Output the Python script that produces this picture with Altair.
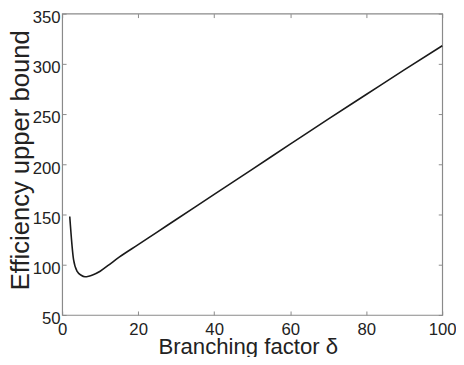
import altair as alt
import pandas as pd

# Branching factor values and efficiency upper bound
delta = [2, 3, 4, 5, 6, 7, 8, 10, 12, 15, 20, 25, 30, 40, 50, 60, 70, 80, 90, 100]
efficiency = [148, 105, 93, 89.5, 88, 88.6, 89.8, 93.5, 99, 107.5, 120, 132.5, 145,
              170, 195, 220, 245, 269.5, 294, 318]

x_ticks = [0, 20, 40, 60, 80, 100]
y_ticks = [50, 100, 150, 200, 250, 300, 350]

df = pd.DataFrame({"delta": delta, "eff": efficiency})

FONT = "Liberation Sans"
FRAME = "#8a8a8a"
TEXT = "#222222"

xscale = alt.Scale(domain=[0, 100], nice=False, zero=False)
yscale = alt.Scale(domain=[50, 350], nice=False, zero=False)

main = alt.Chart(df).mark_line(color="#1a1a1a", strokeWidth=1.6, interpolate="monotone").encode(
    x=alt.X("delta:Q", scale=xscale,
            axis=alt.Axis(values=x_ticks, orient="bottom", offset=-4, tickSize=4,
                          domain=False, grid=False, labelPadding=7, labelFlush=False,
                          labelFontSize=17, labelColor=TEXT, labelFont=FONT,
                          tickColor=FRAME, title="Branching factor δ",
                          titleFontSize=22.5, titleFontWeight="normal", titleColor=TEXT,
                          titleFont=FONT, titleBaseline="alphabetic",
                          titleX=188.5, titleY=43)),
    y=alt.Y("eff:Q", scale=yscale,
            axis=alt.Axis(values=y_ticks, orient="left", offset=-4, tickSize=4,
                          domain=False, grid=False, labelPadding=2, labelFlush=False,
                          labelOffset=4, labelFontSize=17, labelColor=TEXT, labelFont=FONT,
                          tickColor=FRAME, title="Efficiency upper bound",
                          titleFontSize=26, titleFontWeight="normal", titleColor=TEXT,
                          titleFont=FONT, titleBaseline="alphabetic", titleAngle=270,
                          titleX=-38, titleY=148.5)),
)

frame = alt.Chart(df).mark_line(opacity=0).encode(
    x=alt.X("delta:Q", scale=xscale,
            axis=alt.Axis(values=x_ticks, orient="top", offset=-4, tickSize=4,
                          domain=False, grid=False, labels=False, tickColor=FRAME,
                          title=None)),
    y=alt.Y("eff:Q", scale=yscale,
            axis=alt.Axis(values=y_ticks, orient="right", offset=-4, tickSize=4,
                          domain=False, grid=False, labels=False, tickColor=FRAME,
                          title=None)),
)

chart = alt.layer(main, frame).resolve_axis(x="independent", y="independent").properties(
    width=386, height=306,
    autosize=alt.AutoSizeParams(type="none"),
    padding={"left": 55, "top": 3, "right": 14, "bottom": 40},
    background="white",
).configure_view(stroke=FRAME, strokeWidth=1.2)

chart.save("out.html", embed_options={"renderer": "svg", "actions": False})
